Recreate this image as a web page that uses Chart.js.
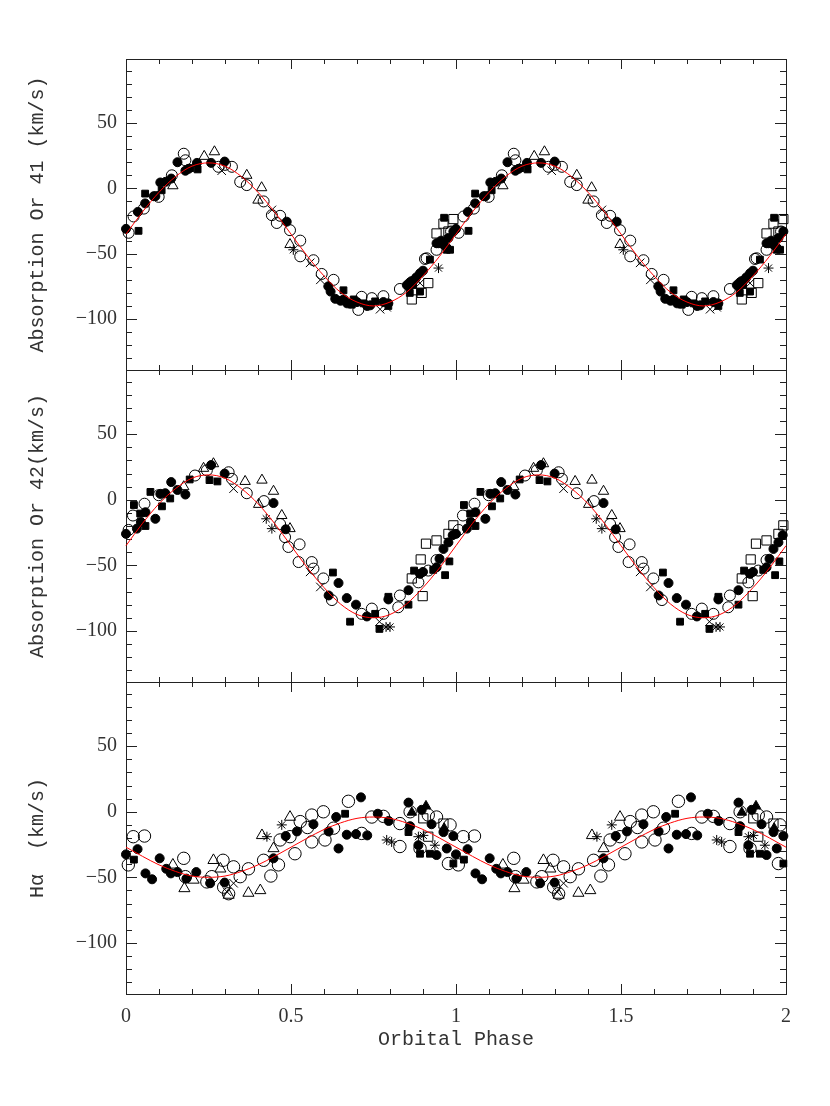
<!DOCTYPE html>
<html>
<head>
<meta charset="utf-8">
<script src="https://cdn.jsdelivr.net/npm/chart.js@4/dist/chart.umd.min.js"></script>
<style>
  html, body { margin: 0; padding: 0; background: #fff; }
  #wrap { position: relative; width: 830px; height: 1106px; }
  #wrap canvas { position: absolute; left: 0; }
</style>
</head>
<body>
<div id="wrap">
  <canvas id="p1" width="830" height="420" style="top:0"></canvas>
  <canvas id="p2" width="830" height="412" style="top:320px"></canvas>
  <canvas id="p3" width="830" height="474" style="top:632px"></canvas>
</div>
<script>
/* radial velocity curves, folded on orbital phase (plotted twice, 0-2) */

// fitted curves, read every 0.05 in phase
const fitPhase = [0, .05, .1, .15, .2, .25, .3, .35, .4, .45, .5, .55, .6, .65, .7, .75, .8, .85, .9, .95, 1];
const fitOr41  = [-35, -18, -3, 9, 17, 19.5, 17, 9, -3, -18, -35, -52, -67, -79.5, -87, -90, -87, -79.5, -67, -52, -35];
const fitOr42  = [-35, -18, -3, 8.5, 16.5, 19, 16.5, 8.5, -3, -18, -35, -52, -67, -79.5, -87.5, -90, -87.5, -79.5, -67, -52, -35];
const fitHa    = [-27, -34, -40.5, -45.5, -49, -50, -49, -45.5, -40.5, -34, -27, -20, -13.5, -8.5, -5, -4, -5, -8.5, -13.5, -20, -27];

// Or 41 absorption  [phase, km/s]
const o41FilledCircle = [[0,-31],[.036,-18],[.058,-11.5],[.084,-6],[.089,-6],[.104,4.5],[.12,5],[.137,7.5],[.156,20],[.18,13.5],[.19,15],[.215,19.5],[.258,19.5],[.299,20.5],[.487,-25.5],[.613,-75],[.62,-79],[.634,-84.5],[.65,-86],[.66,-85],[.67,-88],[.68,-88],[.7,-87],[.731,-90],[.74,-89.5],[.78,-87],[.795,-88],[.851,-74],[.86,-72],[.865,-71],[.876,-69.5],[.88,-68],[.891,-65],[.9,-63],[.941,-42],[.947,-42],[.955,-40],[.962,-43],[.972,-45.5],[.977,-38],[.992,-33]];
const o41FilledSquare = [[.038,-32.5],[.058,-4],[.108,-1.5],[.195,15.5],[.217,14.5],[.659,-78],[.684,-89],[.69,-85],[.72,-88],[.755,-86.5],[.795,-90],[.86,-80],[.87,-74],[.891,-79],[.921,-54.5],[.964,-22.5],[.972,-47],[.982,-47]];
const o41OpenCircle   = [[.008,-34],[.023,-21.5],[.054,-15.5],[.099,-6.5],[.139,10],[.175,26.5],[.18,21.5],[.28,16.5],[.3,18],[.321,16.5],[.346,5],[.366,2.5],[.417,-10],[.442,-20.5],[.457,-26.5],[.467,-21],[.497,-32],[.528,-40],[.528,-52],[.568,-55],[.593,-65.5],[.629,-70],[.704,-93],[.714,-83],[.745,-84],[.78,-82.5],[.83,-77],[.906,-54],[.911,-53.5],[.941,-47],[.985,-33]];
const o41OpenTriangle = [[.142,2],[.237,24.5],[.268,28],[.366,10],[.4,-9],[.411,.5],[.497,-43]];
const o41OpenSquare   = [[.866,-85],[.896,-80],[.916,-72.5],[.941,-34.5],[.962,-27],[.977,-33],[.992,-23.5]];
const o41Cross        = [[.29,13.5],[.442,-16.5],[.558,-57],[.589,-70],[.77,-92.5],[.79,-91],[.891,-72.5]];
const o41Star         = [[.507,-47],[.947,-61]];

// Or 42 absorption
const o42FilledCircle = [[0,-26],[.033,-22],[.045,-17],[.059,-9.5],[.089,-14.5],[.104,4.5],[.119,5],[.137,13.5],[.156,7.5],[.18,4],[.258,26.5],[.299,20],[.447,-2.5],[.484,-22.5],[.614,-73],[.644,-63.5],[.669,-75],[.697,-80],[.73,-89],[.795,-76],[.856,-69],[.891,-56.5],[.9,-55],[.941,-51.5],[.95,-45],[.962,-37.5],[.977,-32.5],[.99,-27]];
const o42FilledSquare = [[.024,-4],[.043,-10.5],[.059,-20],[.074,6],[.109,-5],[.134,1],[.193,15.5],[.253,15],[.277,14],[.627,-55.5],[.679,-93],[.755,-87],[.768,-98.5],[.795,-74],[.856,-80],[.873,-54],[.931,-53.5],[.967,-57.5],[.98,-47]];
const o42OpenCircle   = [[.008,-23],[.021,-12],[.056,-3],[.099,3.5],[.209,18.5],[.245,22.5],[.311,21],[.321,16],[.366,5],[.418,-1],[.467,-18.5],[.482,-28.5],[.492,-36],[.526,-34],[.523,-47.5],[.563,-47.5],[.568,-52.5],[.598,-60],[.624,-76.5],[.714,-87],[.745,-83],[.78,-87],[.825,-82],[.83,-73],[.886,-63],[.916,-54],[.941,-46]];
const o42OpenTriangle = [[.175,10],[.235,24],[.265,27.5],[.361,14],[.402,-3.5],[.412,15],[.447,6.5],[.472,-12],[.497,-22]];
const o42OpenSquare   = [[.866,-60],[.893,-45.5],[.899,-73.5],[.909,-33.5],[.941,-31],[.977,-26],[.992,-19.5]];
const o42Cross        = [[.326,8.5],[.558,-55],[.589,-66.5],[.768,-93]];
const o42Star         = [[.425,-14.5],[.442,-22],[.788,-97],[.8,-97]];

// H alpha emission
const haFilledCircle   = [[0,-32.5],[.035,-28.5],[.059,-47],[.079,-51.5],[.102,-35.5],[.122,-43.5],[.136,-47],[.156,-46],[.183,-51],[.213,-46],[.255,-54.5],[.299,-54],[.447,-35.5],[.484,-18.5],[.518,-15],[.568,-9.5],[.614,-15],[.637,-4],[.644,-28],[.669,-17.5],[.697,-17],[.712,11],[.731,-18],[.763,-1.5],[.796,-7],[.856,7],[.861,-11],[.886,-25.5],[.896,1.5],[.926,-9.5],[.941,-33],[.962,-15.5],[.972,-28],[.992,-18.5]];
const haFilledSquare   = [[.024,-36.5],[.664,-1.5],[.856,-15.5],[.891,-32],[.921,-32],[.992,-39.5]];
const haFilledTriangle = [[.866,-.5],[.909,4.5],[.964,-12.5]];
const haOpenCircle     = [[.007,-40.5],[.022,-19],[.056,-18.5],[.175,-35.5],[.18,-49.5],[.245,-53.5],[.26,-49.5],[.294,-37],[.296,-57.5],[.311,-62.5],[.326,-42],[.346,-49.5],[.371,-43.5],[.417,-37],[.439,-49],[.462,-40.5],[.467,-21.5],[.497,-19],[.512,-32],[.528,-7.5],[.55,-12],[.563,-2.5],[.563,-23],[.598,0],[.603,-21.5],[.629,-12.5],[.674,8],[.714,-16.5],[.745,-4],[.78,-3.5],[.83,-9],[.83,-26.5],[.861,0],[.891,-28],[.916,-2.5],[.941,-4],[.977,-39.5],[.982,-10]];
const haOpenTriangle   = [[.142,-40.5],[.177,-58.5],[.205,-52],[.265,-37],[.286,-43.5],[.311,-63.5],[.371,-62],[.407,-60],[.412,-18],[.447,-28],[.497,-4]];
const haOpenSquare     = [[.901,-5],[.916,-19],[.962,-9]];
const haCross          = [[.306,-61],[.326,-54.5]];
const haStar           = [[.427,-19],[.472,-10],[.79,-21.5],[.805,-23],[.886,-19],[.901,-18],[.936,-25.5]];

const ink = '#000', none = 'rgba(0,0,0,0)';
const mk = {
  fc:  { pointStyle: 'circle',   pointRadius: 4.5, pointBackgroundColor: ink,  pointBorderColor: ink, pointBorderWidth: 1 },
  oc:  { pointStyle: 'circle',   pointRadius: 5.5, pointBackgroundColor: none, pointBorderColor: ink, pointBorderWidth: 1 },
  ocL: { pointStyle: 'circle',   pointRadius: 6.2, pointBackgroundColor: none, pointBorderColor: ink, pointBorderWidth: 1 },
  fs:  { pointStyle: 'rect',     pointRadius: 4.8, pointBackgroundColor: ink,  pointBorderColor: ink, pointBorderWidth: 1 },
  os:  { pointStyle: 'rect',     pointRadius: 6.5, pointBackgroundColor: none, pointBorderColor: ink, pointBorderWidth: 1 },
  ot:  { pointStyle: 'triangle', pointRadius: 6,   pointBackgroundColor: none, pointBorderColor: ink, pointBorderWidth: 1 },
  otL: { pointStyle: 'triangle', pointRadius: 6.4, pointBackgroundColor: none, pointBorderColor: ink, pointBorderWidth: 1 },
  ft:  { pointStyle: 'triangle', pointRadius: 5.5, pointBackgroundColor: ink,  pointBorderColor: ink, pointBorderWidth: 1 },
  x:   { pointStyle: 'crossRot', pointRadius: 6,   pointBackgroundColor: none, pointBorderColor: ink, pointBorderWidth: 1 },
  st:  { pointStyle: 'star',     pointRadius: 5,   pointBackgroundColor: none, pointBorderColor: ink, pointBorderWidth: 1 },
};

// phase data shown twice: phase and phase + 1
const twice = pts => pts.flatMap(p => [{ x: p[0], y: p[1] }, { x: p[0] + 1, y: p[1] }]);

function fitLine(vals) {
  const d = [];
  [0, 1].forEach(k => fitPhase.forEach((ph, i) => { if (!(k && i === 0)) d.push({ x: ph + k, y: vals[i] }); }));
  return { data: d, showLine: true, borderColor: '#ff0000', borderWidth: 1, pointRadius: 0,
           cubicInterpolationMode: 'monotone', clip: false };
}

const pts = (arr, m) => Object.assign({ data: twice(arr), clip: false, showLine: false }, mk[m]);

const txt = '#333';
const tickFont  = { family: "'Liberation Serif', serif", size: 20 };
const titleFont = { family: "'Liberation Mono', monospace", size: 20 };

// frame + inward ticks on all four sides
const frame = {
  id: 'frame',
  beforeDatasetsDraw(chart) {
    const { ctx, chartArea: a, scales: { x, y } } = chart;
    ctx.save();
    ctx.strokeStyle = '#222';
    ctx.lineWidth = 1;
    ctx.strokeRect(Math.round(a.left) + .5, Math.round(a.top) + .5, Math.round(a.right - a.left), Math.round(a.bottom - a.top));
    ctx.beginPath();
    for (let v = -130; v <= 90; v += 10) {
      const py = Math.round(y.getPixelForValue(v)) + .5, len = v % 50 === 0 ? 11 : 6;
      ctx.moveTo(a.left, py);  ctx.lineTo(a.left + len, py);
      ctx.moveTo(a.right, py); ctx.lineTo(a.right - len, py);
    }
    for (let i = 0; i <= 20; i++) {
      const px = Math.round(x.getPixelForValue(i / 10)) + .5, len = i % 5 === 0 ? 10 : 5;
      ctx.moveTo(px, a.top);    ctx.lineTo(px, a.top + len);
      ctx.moveTo(px, a.bottom); ctx.lineTo(px, a.bottom - len);
    }
    ctx.stroke();
    ctx.restore();
  }
};

function panel(id, yTitle, fit, sets, pad, last) {
  const yAxis = {
    min: -139, max: 99,
    grid: { display: false, drawTicks: false }, border: { display: false },
    ticks: { stepSize: 50, includeBounds: false, padding: 9, color: txt, font: tickFont,
             callback: v => String(v).replace('-', '\u2212') },
    title: { display: true, text: yTitle, color: txt, font: titleFont, padding: { top: 26, bottom: 0 } },
    afterFit: s => { s.width = 126; }
  };
  const xAxis = last ? {
    type: 'linear', min: 0, max: 2,
    grid: { display: false, drawTicks: false }, border: { display: false },
    ticks: { stepSize: 0.5, padding: 11, color: txt, font: tickFont, maxRotation: 0,
             callback: v => String(Math.round(v * 10) / 10) },
    title: { display: true, text: 'Orbital Phase', color: txt, font: titleFont, padding: { top: 0, bottom: 12 } },
    afterFit: s => { s.height = 70; }
  } : { type: 'linear', min: 0, max: 2, display: false };

  return new Chart(document.getElementById(id), {
    type: 'scatter',
    data: { datasets: [fitLine(fit), ...sets] },
    options: {
      responsive: false, animation: false, devicePixelRatio: 1,
      layout: { padding: { left: 0, right: 44, top: pad[0], bottom: pad[1] } },
      plugins: { legend: { display: false }, tooltip: { enabled: false } },
      scales: { x: xAxis, y: yAxis }
    },
    plugins: [frame]
  });
}

panel('p1', 'Absorption Or 41 (km/s)', fitOr41, [
  pts(o41FilledCircle, 'fc'), pts(o41FilledSquare, 'fs'), pts(o41Cross, 'x'), pts(o41Star, 'st'),
  pts(o41OpenTriangle, 'ot'), pts(o41OpenSquare, 'os'), pts(o41OpenCircle, 'oc')
], [59, 50]);

panel('p2', 'Absorption Or 42(km/s)', fitOr42, [
  pts(o42FilledCircle, 'fc'), pts(o42FilledSquare, 'fs'), pts(o42Cross, 'x'), pts(o42Star, 'st'),
  pts(o42OpenTriangle, 'ot'), pts(o42OpenSquare, 'os'), pts(o42OpenCircle, 'oc')
], [50, 50]);

panel('p3', 'H\u03b1  (km/s)', fitHa, [
  pts(haFilledCircle, 'fc'), pts(haFilledSquare, 'fs'), pts(haFilledTriangle, 'ft'), pts(haCross, 'x'),
  pts(haStar, 'st'), pts(haOpenTriangle, 'otL'), pts(haOpenSquare, 'os'), pts(haOpenCircle, 'ocL')
], [50, 42], true);
</script>
</body>
</html>
